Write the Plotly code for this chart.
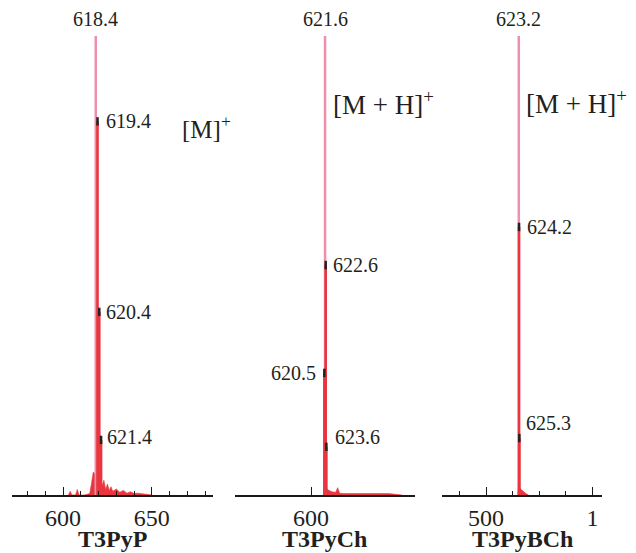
import plotly.graph_objects as go

# ---------------- data ----------------
panel_titles = ["T3PyP", "T3PyCh", "T3PyBCh"]
ion_labels = ["[M]<sup>+</sup>", "[M + H]<sup>+</sup>", "[M + H]<sup>+</sup>"]

# isotope peaks (m/z, relative intensity %)
p1_mz = [618.4, 619.4, 620.4, 621.4]
p1_int = [100, 81.4, 39.9, 12.0]
p2_mz = [621.6, 620.5, 622.6, 623.6]
p2_int = [100, 26.6, 50.1, 10.5]
p3_mz = [623.2, 624.2, 625.3]
p3_int = [100, 58.4, 12.4]

# baseline noise (m/z, %)
n1_mz = [603, 604, 605, 607, 608, 609, 612, 615, 616, 617, 618, 619, 620, 621, 622, 623,
         624, 625, 626, 627, 628, 630, 632, 634, 636, 638, 640, 642, 646, 650]
n1_int = [0, 0.8, 0, 0, 1.2, 0, 0, 0.3, 2.5, 5.0, 4.5, 5.5, 3.5, 3.0, 2.0, 3.2,
          1.2, 2.4, 1.0, 1.8, 0.8, 1.3, 0.6, 1.0, 0.4, 0.7, 0.3, 0.4, 0.2, 0]
n2_mz = [619, 621, 623, 625, 628, 632, 638, 641, 644, 650, 660, 690, 720, 740]
n2_int = [0, 2.5, 1.8, 1.2, 1.0, 0.7, 0.6, 1.6, 0.4, 0.3, 0.3, 0.3, 0.3, 0]
n3_mz = [619, 622, 630, 640, 650, 660]
n3_int = [0, 2.2, 1.3, 0.7, 0.3, 0]

# axes
x1_range = [571.2, 684.5]
x2_range = [483, 760]
x3_range = [334.6, 936]
x1_ticks, x1_text = [600, 650], ["600", "650"]
x2_ticks, x2_text = [600], ["600"]
x3_ticks, x3_text = [500, 900], ["500", "1"]

# label offsets (x shift px, y shift px, anchor)
p1_off = [(0, 4, "center"), (6, 0, "left"), (5, 0, "left"), (4, 3, "left")]
p2_off = [(0, 4, "center"), (-6, 0, "right"), (5, 0, "left"), (7, 10, "left")]
p3_off = [(0, 4, "center"), (6, 0, "left"), (5, 15, "left")]

PINK = "#ef8fa9"
RED = "#e8363f"
TXT = "#231f20"
FONT = "Liberation Serif"

# page body has an 8px margin: draw a 628x545 figure offset by 8px
OFF = 8
W, H = 636 - OFF, 553 - OFF
MT, MB = 36 - OFF, 553 - 495
PH = H - MT - MB


def px_x(px):
    return (px - OFF) / W


def px_y(py):
    return (495 - py) / PH


panels = [
    (p1_mz, p1_int, n1_mz, n1_int, p1_off, x1_range, x1_ticks, x1_text, 10),
    (p2_mz, p2_int, n2_mz, n2_int, p2_off, x2_range, x2_ticks, x2_text, None),
    (p3_mz, p3_int, n3_mz, n3_int, p3_off, x3_range, x3_ticks, x3_text, 100),
]
domains_px = [(12, 213), (235, 415), (442, 602)]
ion_px = [(180, 127), (331, 103), (524, 102)]
ion_size = [25, 27, 27]

fig = go.Figure()
annotations = []
for i, (mz, it, nmz, nit, off, xr, tv, tt, mdt) in enumerate(panels):
    xa = "x" if i == 0 else f"x{i+1}"
    ya = "y" if i == 0 else f"y{i+1}"
    fig.add_trace(go.Scatter(x=nmz, y=nit, mode="lines", fill="tozeroy",
                             line=dict(color=RED, width=0.6), fillcolor=RED,
                             xaxis=xa, yaxis=ya, hoverinfo="skip"))
    top = max(it)
    for m, h in zip(mz, it):
        if h == top:
            fig.add_trace(go.Scatter(x=[m, m], y=[0, h], mode="lines",
                                     line=dict(color=PINK, width=2.5),
                                     xaxis=xa, yaxis=ya, hoverinfo="skip"))
    for m, h in zip(mz, it):
        if h != top:
            fig.add_trace(go.Scatter(x=[m, m], y=[0, h], mode="lines",
                                     line=dict(color=RED, width=2.6),
                                     xaxis=xa, yaxis=ya, hoverinfo="skip"))
    mk_x = [m for m, h in zip(mz, it) if h != top]
    mk_y = [h for h in it if h != top]
    fig.add_trace(go.Scatter(x=mk_x, y=mk_y, mode="markers",
                             marker=dict(symbol="line-ns", size=6,
                                         line=dict(color="#222", width=2.5)),
                             xaxis=xa, yaxis=ya, hoverinfo="skip"))
    for (m, h), (dx, dy, anc) in zip(zip(mz, it), off):
        annotations.append(dict(
            x=m, y=h, xref=xa, yref=ya, text=f"{m:.1f}", showarrow=False,
            xanchor=anc, yanchor="bottom" if anc == "center" else "middle",
            xshift=dx, yshift=dy, font=dict(family=FONT, size=20, color=TXT)))
    ix, iy = ion_px[i]
    annotations.append(dict(
        x=px_x(ix), y=px_y(iy), xref="paper", yref="paper",
        text=ion_labels[i], showarrow=False, xanchor="left", yanchor="middle",
        font=dict(family=FONT, size=ion_size[i], color=TXT)))
    d0, d1 = px_x(domains_px[i][0]), px_x(domains_px[i][1])
    annotations.append(dict(
        x=(d0 + d1) / 2, y=px_y(539), xref="paper", yref="paper",
        text=f"<b>{panel_titles[i]}</b>", showarrow=False,
        xanchor="center", yanchor="middle",
        font=dict(family=FONT, size=24, color=TXT)))

    axis = dict(domain=[d0, d1], range=xr, showgrid=False, zeroline=False,
                showline=True, linecolor="#1a1a1a", linewidth=1.6,
                ticks="inside", ticklen=8, tickwidth=1.2, tickcolor="#1a1a1a",
                tickvals=tv, ticktext=tt, automargin=False,
                tickfont=dict(family=FONT, size=24, color=TXT),
                anchor=ya, fixedrange=True)
    if mdt:
        axis["minor"] = dict(ticks="inside", ticklen=4, dtick=mdt, tick0=0,
                             tickcolor="#1a1a1a", tickwidth=1.2)
    yaxis = dict(range=[0, 100], visible=False, anchor=xa, domain=[0, 1],
                 fixedrange=True, automargin=False)
    key = "" if i == 0 else str(i + 1)
    fig.update_layout({f"xaxis{key}": axis, f"yaxis{key}": yaxis})

fig.update_layout(
    width=W, height=H,
    margin=dict(l=0, r=0, t=MT, b=MB, autoexpand=False),
    paper_bgcolor="white", plot_bgcolor="white",
    showlegend=False, annotations=annotations,
)

fig.write_html("out.html")
